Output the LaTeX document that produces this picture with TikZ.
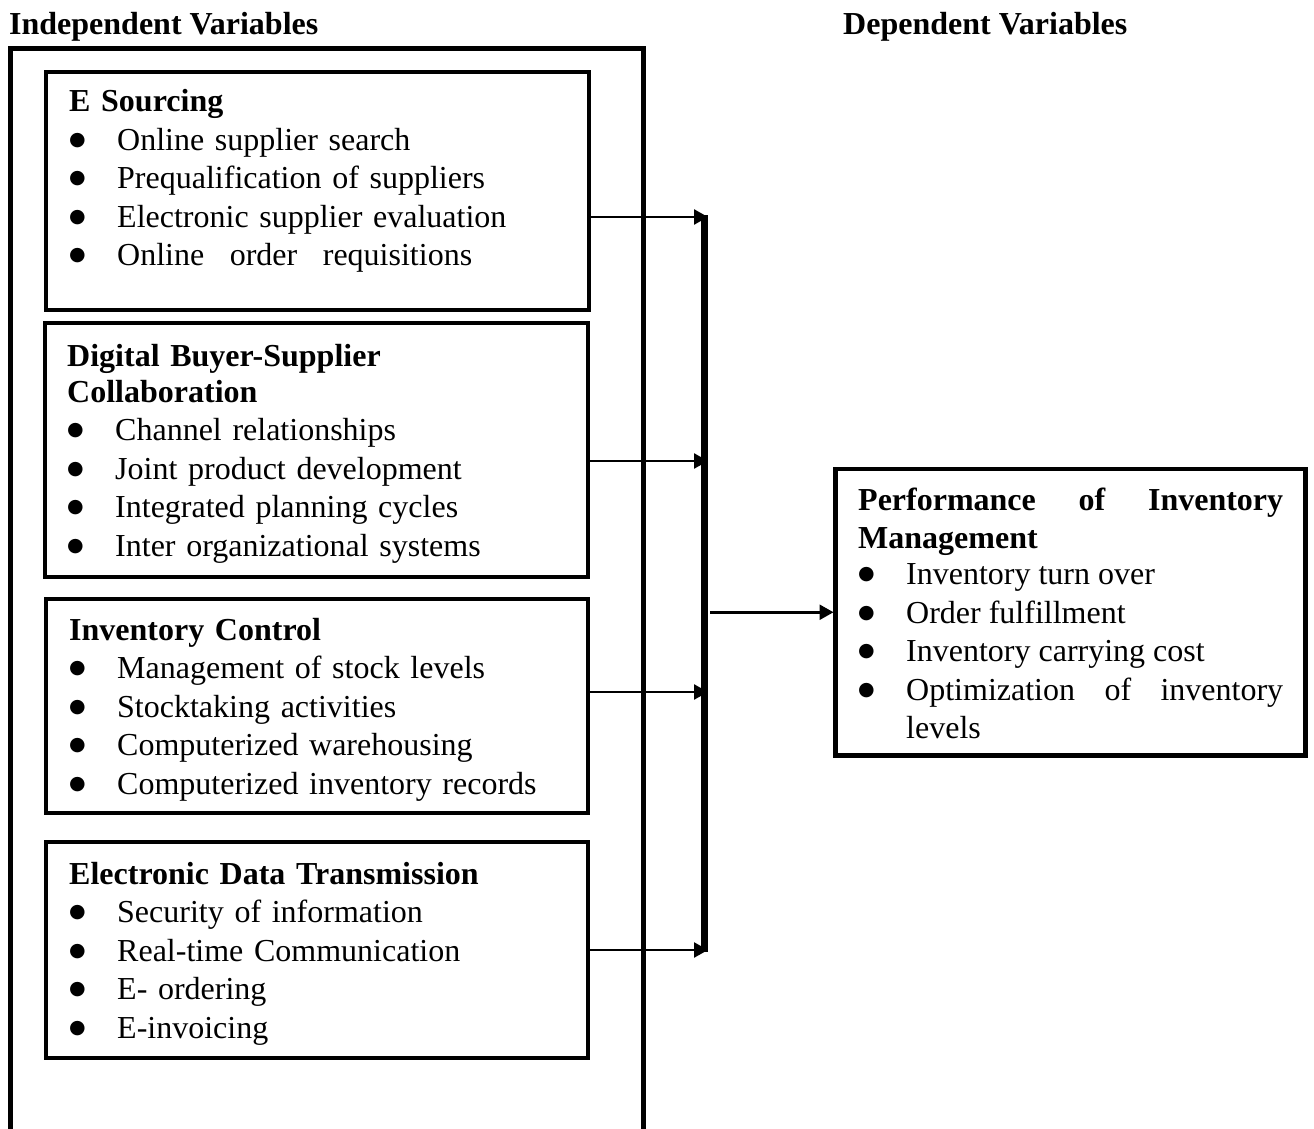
\documentclass[tikz,border=0pt]{standalone}
\usepackage{fontspec}
\setmainfont{Liberation Serif}
\newfontfamily\dotfont{DejaVu Sans}
\usetikzlibrary{positioning, arrows.meta, calc}
\hyphenpenalty=10000
\exhyphenpenalty=10000

\tikzset{
  panel/.style={draw, line width=4.5pt, inner sep=0pt, outer sep=0pt, anchor=north west},
  body/.style={inner sep=0pt, anchor=base west, align=left, font=\fontsize{32}{38.5}\selectfont},
  heading/.style={inner sep=0pt, anchor=base west, font=\fontsize{32}{38.5}\selectfont\bfseries},
  link/.style={line width=2.5pt, -{Triangle[length=14pt,width=15pt]}},
}
\newcommand{\bul}[1]{\par\hangindent=48pt\hangafter=1\makebox[48pt][l]{\raisebox{5pt}{\dotfont\fontsize{19}{19}\selectfont ●}}#1}

\begin{document}
\begin{tikzpicture}[x=1pt,y=-1pt]
\useasboundingbox (0,0) rectangle (1314,1129);

% titles
\node[heading] (indep) at (9,35) {Independent Variables};
\node[heading] (dep) at (843,35) {Dependent Variables};

% frame round the independent variables
\draw[line width=5pt, line join=miter] (10,1140) -- (10,49) -- (643,49) -- (643,1140);

% the four groups
\node[panel, minimum width=543pt, minimum height=238pt] (esrc) at (46,72) {};
\node[body, text width=500pt] (esrcTxt) at (69,112)
{\textbf{E Sourcing}
 \bul{Online supplier search}
 \bul{Prequalification of suppliers}
 \bul{Electronic supplier evaluation}
 \bul{\hbox to 355pt{Online\hfil order\hfil requisitions}}\par};

\node[panel, minimum width=543pt, minimum height=254pt] (dbsc) at (45,323) {};
\node[body, text width=500pt] (dbscTxt) at (67,366)
{\textbf{Digital Buyer-Supplier}\\[-2.5pt]
 \textbf{Collaboration}
 \bul{Channel relationships}
 \bul{Joint product development}
 \bul{Integrated planning cycles}
 \bul{Inter organizational systems}\par};

\node[panel, minimum width=542pt, minimum height=214pt] (invc) at (46,599) {};
\node[body, text width=500pt] (invcTxt) at (69,640)
{\textbf{Inventory Control}
 \bul{Management of stock levels}
 \bul{Stocktaking activities}
 \bul{Computerized warehousing}
 \bul{Computerized inventory records}\par};

\node[panel, minimum width=542pt, minimum height=216pt] (edt) at (46,842) {};
\node[body, text width=500pt] (edtTxt) at (69,884)
{\textbf{Electronic Data Transmission}
 \bul{Security of information}
 \bul{Real-time Communication}
 \bul{E- ordering}
 \bul{E-invoicing}\par};

% dependent variable
\node[panel, minimum width=470pt, minimum height=286.5pt] (perf) at (835.5,469) {};
\node[body, align=justify, text width=425pt] (perfTxt) at (858,510)
{\textbf{Performance of Inventory Management}\par\vspace{-2.5pt}
 \bul{Inventory turn over}
 \bul{Order fulfillment}
 \bul{Inventory carrying cost}
 \bul{Optimization of inventory levels}\par};

% collecting bar
\coordinate (hubTop) at (704.5,215);
\coordinate (hubBot) at (704.5,952);
\draw[line width=7pt] (hubTop) -- (hubBot);

\coordinate (srcA) at ([yshift=-26pt]esrc.east);
\coordinate (srcB) at ([yshift=-11pt]dbsc.east);
\coordinate (srcC) at ([yshift=14pt]invc.east);
\coordinate (srcD) at (edt.east);
\draw[link, shorten >=-3.5pt] (srcA) -- (srcA -| hubTop);
\draw[link, shorten >=-3.5pt] (srcB) -- (srcB -| hubTop);
\draw[link, shorten >=-3.5pt] (srcC) -- (srcC -| hubTop);
\draw[link, shorten >=-3.5pt] (srcD) -- (srcD -| hubTop);
\draw[link, shorten <=5.5pt, shorten >=2pt] (perf.west -| hubTop) -- (perf.west);
\end{tikzpicture}
\end{document}
